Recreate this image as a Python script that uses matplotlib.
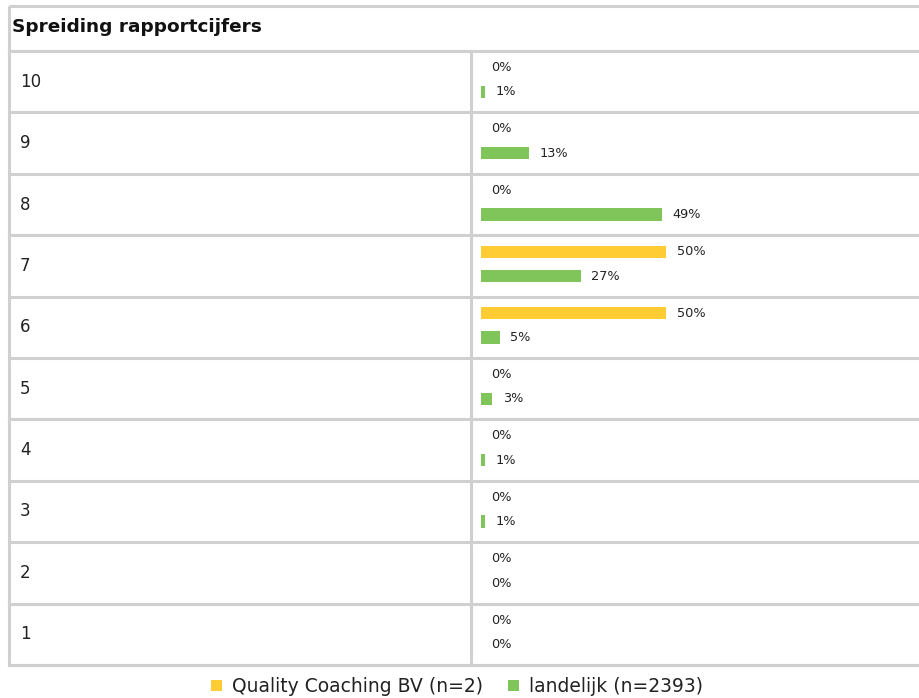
import matplotlib
matplotlib.use("Agg")
import matplotlib.pyplot as plt
from matplotlib.patches import Rectangle

# data
cijfers = ["10", "9", "8", "7", "6", "5", "4", "3", "2", "1"]
quality = [0, 0, 0, 50, 50, 0, 0, 0, 0, 0]
landelijk = [1, 13, 49, 27, 5, 3, 1, 1, 0, 0]
series_names = ["Quality Coaching BV (n=2)", "landelijk (n=2393)"]
title = "Spreiding rapportcijfers"

YELLOW = "#FFCC33"
GREEN = "#80C55A"
GRID = "#D0D0D0"
TXT = "#222222"

W, H = 920, 698
fig = plt.figure(figsize=(W / 100, H / 100), dpi=100)

# background axes in pixel coordinates for the table frame
bg = fig.add_axes([0, 0, 1, 1])
bg.set_xlim(0, W)
bg.set_ylim(H, 0)
bg.axis("off")

left, col, right = 9, 471, W + 5
top, head_bottom = 6, 51
row_h = 61.4
n = len(cijfers)
bottom = head_bottom + row_h * n

bg.add_patch(Rectangle((left, top), right - left, bottom - top,
                       fill=False, ec=GRID, lw=2.2))
for i in range(n + 1):
    y = head_bottom + i * row_h
    bg.plot([left, right], [y, y], color=GRID, lw=2.2)
bg.plot([col, col], [head_bottom, bottom], color=GRID, lw=2.2)

bg.text(12, (top + head_bottom) / 2 - 1, title, fontsize=13.3, fontweight="bold",
        color="#111111", va="center", ha="left")
for i, c in enumerate(cijfers):
    bg.text(20, head_bottom + i * row_h + row_h / 2, c, fontsize=12,
            color=TXT, va="center", ha="left")

# bar axes over the right column, in percent
x0 = 481
px_per_pct = 3.7
ax = fig.add_axes([x0 / W, 1 - bottom / H, (W - x0) / W, (bottom - head_bottom) / H])
ax.set_xlim(0, (W - x0) / px_per_pct)
ax.set_ylim(n, 0)
ax.axis("off")

yq = [i + 0.27 for i in range(n)]
yl = [i + 0.665 for i in range(n)]
bh = 0.2

ax.barh(yq, quality, height=bh, color=YELLOW, label=series_names[0])
ax.barh(yl, landelijk, height=bh, color=GREEN, label=series_names[1])

for ys, vals in ((yq, quality), (yl, landelijk)):
    for y, v in zip(ys, vals):
        ax.annotate(f"{v}%", (v, y), xytext=(10.5, 0), textcoords="offset pixels",
                    fontsize=9.3, color=TXT, va="center", ha="left")

leg = fig.legend(loc="lower center", bbox_to_anchor=(0.497, -0.022), ncol=2,
                 frameon=False, fontsize=13.5, handlelength=0.55, handleheight=0.55,
                 handletextpad=0.55, columnspacing=1.35)
for t in leg.get_texts():
    t.set_color(TXT)

fig.savefig("out.png", dpi=100)
